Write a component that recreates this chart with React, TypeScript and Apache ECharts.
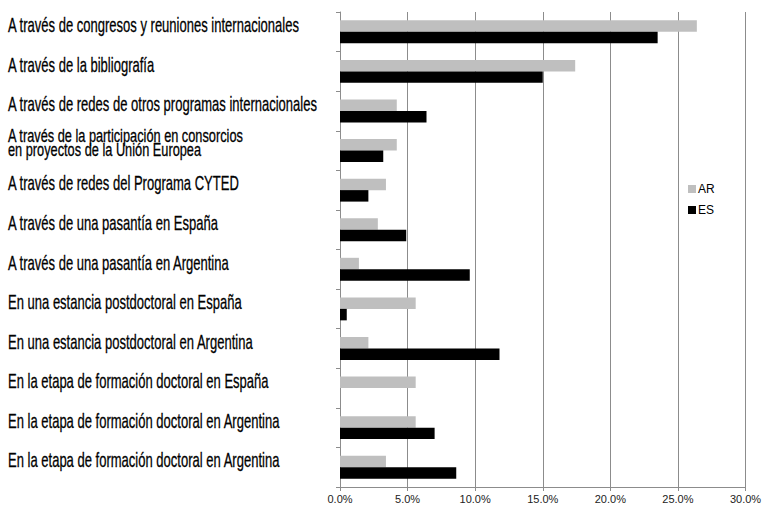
import React, { useEffect, useRef } from "react";
import * as echarts from "echarts";

const categories: string[] = [
  "A través de congresos y reuniones internacionales",
  "A través de la bibliografía",
  "A través de redes de otros programas internacionales",
  "A través de la participación en consorcios\nen proyectos de la Unión Europea",
  "A través de redes del Programa CYTED",
  "A través de una pasantía en España",
  "A través de una pasantía en Argentina",
  "En una estancia postdoctoral en España",
  "En una estancia postdoctoral en Argentina",
  "En la etapa de formación doctoral en España",
  "En la etapa de formación doctoral en Argentina",
  "En la etapa de formación doctoral en Argentina",
];

const seriesNames: string[] = ["AR", "ES"];
const arValues: number[] = [26.4, 17.4, 4.2, 4.2, 3.4, 2.8, 1.4, 5.6, 2.1, 5.6, 5.6, 3.4];
const esValues: number[] = [23.5, 15.0, 6.4, 3.2, 2.1, 4.9, 9.6, 0.5, 11.8, 0, 7.0, 8.6];
const xTicks: number[] = [0, 5, 10, 15, 20, 25, 30];

export default function App() {
  const ref = useRef<HTMLDivElement>(null);

  useEffect(() => {
    if (!ref.current) return;
    const chart = echarts.init(ref.current, undefined, { renderer: "svg" });
    const axisGray = "#8c8c8c";
    const option: any = {
      animation: false,
      backgroundColor: "#ffffff",
      grid: { left: 340, right: 21.5, top: 12, bottom: 20, containLabel: false },
      legend: {
        orient: "vertical",
        left: 683,
        top: 178,
        itemWidth: 8,
        itemHeight: 8,
        itemGap: 9,
        icon: "rect",
        data: seriesNames,
        textStyle: { fontFamily: "Liberation Sans", fontSize: 12, color: "#000", padding: [0, 0, 0, -3] },
      },
      xAxis: {
        type: "value",
        min: xTicks[0],
        max: xTicks[xTicks.length - 1],
        interval: 5,
        axisLine: { show: true, lineStyle: { color: axisGray, width: 1 } },
        axisTick: { show: true, length: 4, lineStyle: { color: axisGray } },
        splitLine: { show: true, lineStyle: { color: axisGray, width: 1 } },
        axisLabel: {
          fontFamily: "Liberation Sans",
          fontSize: 11,
          color: "#222",
          margin: 6,
          formatter: (v: number) => v.toFixed(1) + "%",
        },
      },
      yAxis: {
        type: "category",
        inverse: true,
        data: categories,
        axisLine: { show: true, lineStyle: { color: axisGray, width: 1 } },
        axisTick: { show: true, length: 4, lineStyle: { color: axisGray } },
        axisLabel: { show: false },
        splitLine: { show: false },
      },
      series: [
        {
          name: seriesNames[0],
          type: "bar",
          data: arValues,
          itemStyle: { color: "#bfbfbf" },
          barGap: "0%",
          barCategoryGap: "42%",
        },
        {
          name: seriesNames[1],
          type: "bar",
          data: esValues,
          itemStyle: { color: "#000000" },
          barGap: "0%",
          barCategoryGap: "42%",
        },
      ],
    };
    chart.setOption(option);

    const graphics = categories.map((c, i) => {
      const y = chart.convertToPixel({ yAxisIndex: 0 }, i) as number;
      const twoLine = c.indexOf("\n") >= 0;
      return {
        type: "text",
        x: 8,
        y: y - (twoLine ? 8 : 7),
        scaleX: twoLine ? 0.71 : 0.62,
        style: {
          text: c,
          fontFamily: "Liberation Sans",
          fontSize: twoLine ? 18 : 21,
          lineHeight: twoLine ? 14 : 24,
          fill: "#000",
          stroke: "#000",
          lineWidth: 0.3,
          align: "left",
          verticalAlign: "middle",
        },
      };
    });
    chart.setOption({ graphic: graphics });

    return () => chart.dispose();
  }, []);

  return (
    <div
      ref={ref}
      style={{ position: "absolute", left: 0, top: 0, width: 767, height: 507 }}
    />
  );
}
